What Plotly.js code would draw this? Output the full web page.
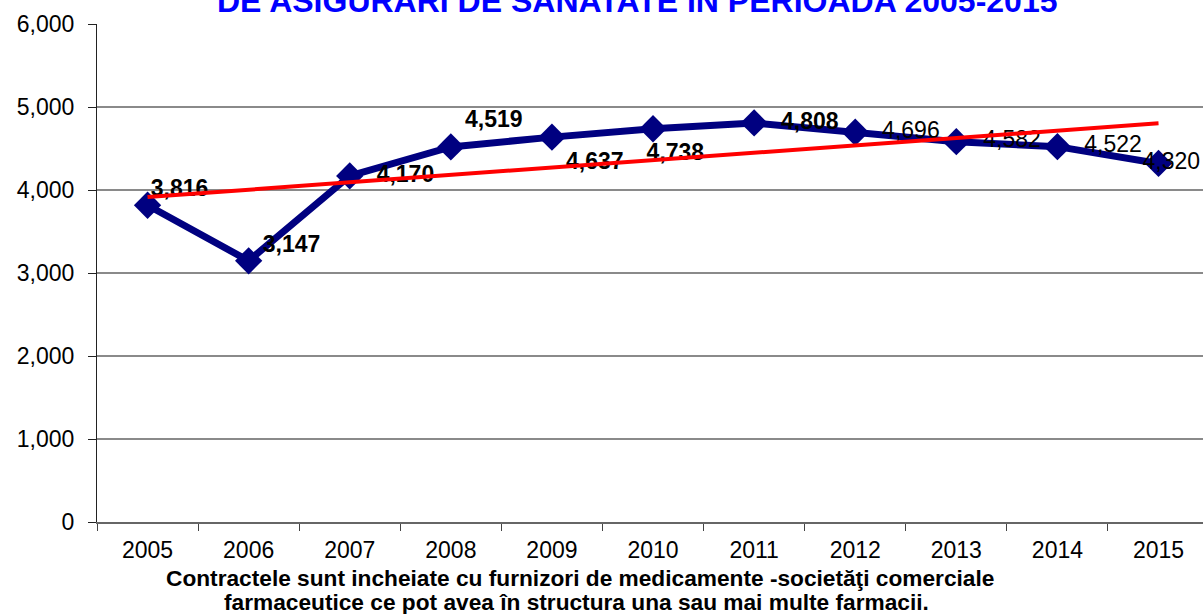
<!DOCTYPE html>
<html>
<head>
<meta charset="utf-8">
<script src="https://cdn.plot.ly/plotly-3.0.1.min.js"></script>
<style>html,body{margin:0;padding:0;background:#fff;}#chart{width:1203px;height:614px;}</style>
</head>
<body>
<div id="chart"></div>
<script>
const years = ['2005','2006','2007','2008','2009','2010','2011','2012','2013','2014','2015'];
const contracts = [3816, 3147, 4170, 4519, 4637, 4738, 4808, 4696, 4582, 4522, 4320];
const boldLabel = [true, true, true, true, true, true, true, false, false, false, false];
const titleText = 'DE ASIGURARI DE SANATATE IN PERIOADA 2005-2015';
const noteLine1 = 'Contractele sunt incheiate cu furnizori de medicamente -societăţi comerciale';
const noteLine2 = 'farmaceutice ce pot avea în structura una sau mai multe farmacii.';

// label placement (style only): position, leading padding spaces, raise by half a line
const labelPos = ['middle center','middle right','middle right','top right','bottom right','bottom center',
                  'middle right','middle right','middle right','middle right','middle center'];
const labelPad = [10, 0, 2, 0, 0, 7, 2, 2, 2, 2, 4];
const labelRaise = [true, true, false, false, false, false, false, false, false, false, false];

// linear trendline (least squares) as in the original spreadsheet chart
const n = contracts.length;
const xs = contracts.map((_, i) => i);
const mx = xs.reduce((a, b) => a + b, 0) / n;
const my = contracts.reduce((a, b) => a + b, 0) / n;
let sxy = 0, sxx = 0;
xs.forEach((x, i) => { sxy += (x - mx) * (contracts[i] - my); sxx += (x - mx) * (x - mx); });
const slope = sxy / sxx;
const trend = xs.map(x => my + slope * (x - mx));

const fmt = v => v.toLocaleString('en-US');
const labels = contracts.map((v, i) => {
  let t = '\u00a0'.repeat(labelPad[i]) + fmt(v);
  if (boldLabel[i]) t = '<b>' + t + '</b>';
  if (labelRaise[i]) t = t + '<br>\u00a0';
  return t;
});

const font = 'Arial, "Liberation Sans", sans-serif';

const data = [
  {
    x: years, y: contracts, type: 'scatter', mode: 'lines+markers+text',
    text: labels, textposition: labelPos,
    textfont: {family: font, size: 23, color: '#000'},
    line: {color: '#000080', width: 7},
    marker: {symbol: 'diamond', size: 21, color: '#000080'},
    hoverinfo: 'x+y', cliponaxis: false
  },
  {
    x: years, y: trend, type: 'scatter', mode: 'lines',
    line: {color: '#ff0000', width: 4}, hoverinfo: 'skip'
  }
];

const layout = {
  width: 1203, height: 614,
  margin: {l: 97, r: 0, t: 24, b: 92, pad: 0},
  paper_bgcolor: '#fff', plot_bgcolor: '#fff',
  showlegend: false,
  font: {family: font, color: '#000'},
  xaxis: {
    type: 'category', range: [-0.5, 10.44],
    showgrid: false, showline: true, linecolor: '#666', linewidth: 2,
    ticks: 'outside', tickson: 'boundaries', ticklen: 7, tickcolor: '#444', tickwidth: 1,
    tickfont: {family: font, size: 23, color: '#000'},
    ticklabelstandoff: 6, fixedrange: true
  },
  yaxis: {
    range: [0, 6000], dtick: 1000, tickformat: ',d',
    showgrid: true, gridcolor: '#8a8a8a', gridwidth: 1.5,
    zeroline: false, showline: true, linecolor: '#222', linewidth: 1,
    ticks: 'outside', ticklen: 8, tickcolor: '#222',
    tickfont: {family: font, size: 23, color: '#000'},
    ticklabelstandoff: 9, fixedrange: true
  },
  annotations: [
    {text: '<b>' + titleText + '</b>', xref: 'paper', yref: 'paper', x: 0.488, y: 1,
     xanchor: 'center', yanchor: 'bottom', yshift: 3, showarrow: false,
     font: {family: font, size: 32, color: '#0000ff'}},
    {text: '<b>' + noteLine1 + '</b>', xref: 'paper', yref: 'paper', x: 0.4367, y: 0,
     xanchor: 'center', yanchor: 'middle', yshift: -56, showarrow: false,
     font: {family: font, size: 22.7, color: '#000'}},
    {text: '<b>' + noteLine2 + '</b>', xref: 'paper', yref: 'paper', x: 0.4331, y: 0,
     xanchor: 'center', yanchor: 'middle', yshift: -80, showarrow: false,
     font: {family: font, size: 22.7, color: '#000'}}
  ]
};

Plotly.newPlot('chart', data, layout, {displayModeBar: false, staticPlot: true});
</script>
</body>
</html>
